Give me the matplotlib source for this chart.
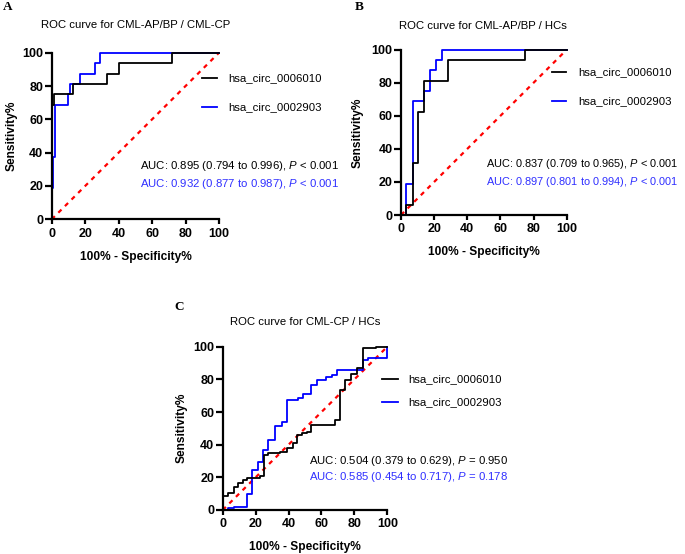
import matplotlib
matplotlib.use("Agg")
import matplotlib.pyplot as plt
from matplotlib.lines import Line2D

plt.rcParams['font.family'] = ['Liberation Sans', 'DejaVu Sans']
plt.rcParams['mathtext.fontset'] = 'custom'
plt.rcParams['mathtext.rm'] = 'Liberation Sans'
plt.rcParams['mathtext.it'] = 'Liberation Sans:italic'
plt.rcParams['mathtext.bf'] = 'Liberation Sans:bold'

W, H = 685, 554

# ---------------- data ----------------
series_names = ["hsa_circ_0006010", "hsa_circ_0002903"]

# Panel A: CML-AP/BP vs CML-CP
a_black_x = [0, 0, 1.5, 1.5, 13, 13, 33, 33, 40, 40, 72, 72, 100]
a_black_y = [0, 68.75, 68.75, 75, 75, 81.25, 81.25, 87.5, 87.5, 93.75, 93.75, 100, 100]
a_blue_x = [0, 0, 0.7, 0.7, 2, 2, 10, 10, 11, 11, 17, 17, 26, 26, 29, 29, 100]
a_blue_y = [0, 18.75, 18.75, 37.5, 37.5, 68.75, 68.75, 75, 75, 81.25, 81.25, 87.5, 87.5, 93.75, 93.75, 100, 100]

# Panel B: CML-AP/BP vs HCs
b_black_x = [0, 3, 3, 7, 7, 10.5, 10.5, 14, 14, 28.5, 28.5, 75, 75, 100]
b_black_y = [0, 0, 6.25, 6.25, 31.25, 31.25, 62.5, 62.5, 81.25, 81.25, 93.75, 93.75, 100, 100]
b_blue_x = [0, 3, 3, 7, 7, 14, 14, 17.5, 17.5, 21, 21, 24.5, 24.5, 100]
b_blue_y = [0, 0, 18.75, 18.75, 68.75, 68.75, 75, 75, 87.5, 87.5, 93.75, 93.75, 100, 100]

# Panel C: CML-CP vs HCs
c_black_x = [0, 0, 3.4, 3.4, 6.9, 6.9, 9.5, 9.5, 12.1, 12.1, 14.6, 14.6, 22.7, 22.7,
             25.3, 25.3, 27.7, 27.7, 34.8, 34.8, 38.9, 38.9, 42.9, 42.9, 45.3, 45.3,
             48, 48, 51, 51, 53.4, 53.4, 68.2, 68.2, 71.3, 71.3, 74, 74, 78, 78,
             81.4, 81.4, 85.4, 85.4, 93, 93, 100]
c_black_y = [0, 8.6, 8.6, 10.2, 10.2, 14.3, 14.3, 16.3, 16.3, 18.4, 18.4, 19.8, 19.8, 20.8,
             20.8, 33.7, 33.7, 34.7, 34.7, 35.7, 35.7, 37.8, 37.8, 40.8, 40.8, 45.9,
             45.9, 47, 47, 48, 48, 52, 52, 55, 55, 73.5, 73.5, 79.6, 79.6, 83,
             83, 86.7, 86.7, 98.9, 98.9, 100, 100]
c_blue_x = [0, 3.4, 3.4, 6.9, 6.9, 14.6, 14.6, 17.6, 17.6, 21.7, 21.7, 24.7, 24.7,
            27.7, 27.7, 31.8, 31.8, 35.8, 35.8, 39.3, 39.3, 46, 46, 49, 49, 53.4,
            53.4, 57, 57, 63, 63, 66.2, 66.2, 69.2, 69.2, 85.4, 85.4, 88.5, 88.5,
            100, 100]
c_blue_y = [0, 0, 1, 1, 2, 2, 9.6, 9.6, 24.5, 24.5, 29.6, 29.6, 36.7, 36.7,
            42.9, 42.9, 51.4, 51.4, 54, 54, 67.3, 67.3, 68.4, 68.4, 70.8, 70.8,
            76.5, 76.5, 79.6, 79.6, 81.6, 81.6, 82.7, 82.7, 85.7, 85.7, 91.8, 91.8,
            92.9, 92.9, 100]

ticks = [0, 20, 40, 60, 80, 100]
titles = ["ROC curve for CML-AP/BP / CML-CP", "ROC curve for CML-AP/BP / HCs",
          "ROC curve for CML-CP / HCs"]
auc_black = [r"AUC: 0.895 (0.794 to 0.996), $\it{P}$ < 0.001",
             r"AUC: 0.837 (0.709 to 0.965), $\it{P}$ < 0.001",
             r"AUC: 0.504 (0.379 to 0.629), $\it{P}$ = 0.950"]
auc_blue = [r"AUC: 0.932 (0.877 to 0.987), $\it{P}$ < 0.001",
            r"AUC: 0.897 (0.801 to 0.994), $\it{P}$ < 0.001",
            r"AUC: 0.585 (0.454 to 0.717), $\it{P}$ = 0.178"]
panel_labels = ["A", "B", "C"]

# ---------------- layout (pixels) ----------------
fig = plt.figure(figsize=(W / 100, H / 100), dpi=100)

def fx(x):
    return x / W

def fy(y):
    return 1 - y / H

panels = [
    dict(box=(51.7, 52.7, 219, 219.3), bx=a_black_x, by=a_black_y, ux=a_blue_x, uy=a_blue_y,
         title=(135.5, 25), ylab=(12, 136), xlab=(135.5, 257), lab=(3, 7),
         leg=(202, 217, 228, 78, 107), auc=(140, 166, 184), afs=8.2),
    dict(box=(401, 49.7, 566.7, 215), bx=b_black_x, by=b_black_y, ux=b_blue_x, uy=b_blue_y,
         title=(483.3, 25.7), ylab=(358, 133), xlab=(483.5, 252), lab=(355, 7),
         leg=(551.7, 565.7, 578, 72, 100.7), auc=(486, 164, 182), afs=7.95),
    dict(box=(222.7, 346.7, 387.3, 510), bx=c_black_x, by=c_black_y, ux=c_blue_x, uy=c_blue_y,
         title=(305.5, 322), ylab=(181.7, 428), xlab=(305, 547), lab=(174, 307),
         leg=(381.7, 398, 408, 379, 402), auc=(309, 461, 477), afs=8.2),
]

FS = 8.2

for i, p in enumerate(panels):
    l, t, r, b = p["box"]
    ax = fig.add_axes([fx(l), fy(b), (r - l) / W, (b - t) / H])
    ax.plot([0, 100], [0, 100], color="red", lw=1.6, ls=(0, (2, 2.2)), zorder=1, clip_on=False)
    ax.plot(p["bx"], p["by"], color="black", lw=1.3, zorder=3, clip_on=False)
    ax.plot(p["ux"], p["uy"], color="#0000ff", lw=1.3, zorder=2, clip_on=False)
    ax.set_xlim(0, 100)
    ax.set_ylim(0, 100)
    ax.set_xticks(ticks)
    ax.set_yticks(ticks)
    for s in ("top", "right"):
        ax.spines[s].set_visible(False)
    for s in ("left", "bottom"):
        ax.spines[s].set_linewidth(1.6)
    ax.tick_params(axis="x", direction="out", length=3.5, width=1.6, pad=2.5, labelsize=9)
    ax.tick_params(axis="y", direction="out", length=5, width=1.6, pad=1, labelsize=9)
    for lab in ax.get_xticklabels() + ax.get_yticklabels():
        lab.set_fontweight("bold")
    ax.patch.set_alpha(0)

    tx, ty = p["title"]
    fig.text(fx(tx), fy(ty), titles[i], ha="center", va="center", fontsize=FS)
    yx, yy = p["ylab"]
    fig.text(fx(yx), fy(yy), "Sensitivity%", ha="center", va="center", rotation=90,
             fontsize=8.6, fontweight="bold")
    xx, xy = p["xlab"]
    fig.text(fx(xx), fy(xy), "100% - Specificity%", ha="center", va="center",
             fontsize=8.6, fontweight="bold")
    lx, ly = p["lab"]
    fig.text(fx(lx), fy(ly), panel_labels[i], ha="left", va="center", fontsize=9.5,
             fontweight="bold", family="Liberation Serif")

    x0, x1, xt, y1, y2 = p["leg"]
    for yy_, col, name in ((y1, "black", series_names[0]), (y2, "#0000ff", series_names[1])):
        fig.add_artist(Line2D([fx(x0), fx(x1)], [fy(yy_), fy(yy_)], color=col, lw=1.3,
                              transform=fig.transFigure))
        fig.text(fx(xt), fy(yy_), name, ha="left", va="center", fontsize=FS)

    ax_, a1, a2 = p["auc"]
    fig.text(fx(ax_), fy(a1), auc_black[i], ha="left", va="center", fontsize=p["afs"], color="black")
    fig.text(fx(ax_), fy(a2), auc_blue[i], ha="left", va="center", fontsize=p["afs"], color="#2f2fff")

fig.savefig("out.png", dpi=100)
